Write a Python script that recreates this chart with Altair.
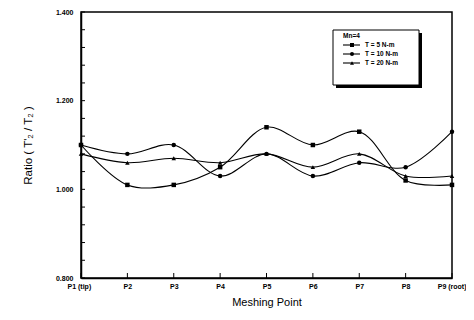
import altair as alt
import pandas as pd

# ---- data ----
points = ["P1 (tip)", "P2", "P3", "P4", "P5", "P6", "P7", "P8", "P9 (root)"]
t5 = [1.10, 1.01, 1.01, 1.05, 1.14, 1.10, 1.13, 1.02, 1.01]
t10 = [1.10, 1.08, 1.10, 1.03, 1.08, 1.03, 1.06, 1.05, 1.13]
t20 = [1.08, 1.06, 1.07, 1.06, 1.08, 1.05, 1.08, 1.03, 1.03]
series_names = ["T = 5 N-m", "T = 10 N-m", "T = 20 N-m"]
shapes = ["square", "circle", "triangle-up"]
y_label_values = [0.8, 1.0, 1.2, 1.4]
y_tick_values = [0.8, 0.84, 0.88, 0.92, 0.96, 1.0, 1.04, 1.08, 1.12, 1.16, 1.2,
                 1.24, 1.28, 1.32, 1.36, 1.4]
legend_title = "Mn=4"
x_title = "Meshing Point"
y_title = "Ratio  (  T'\u2082  /  T\u2082  )"

W, H = 371, 266
FONT = "Liberation Sans"

rows = []
for name, vals in zip(series_names, [t5, t10, t20]):
    for p, v in zip(points, vals):
        rows.append({"point": p, "ratio": v, "series": name})
df = pd.DataFrame(rows)

xaxis = alt.Axis(title=x_title, labelAngle=0, tickSize=0, labelPadding=4,
                 labelFontSize=7, labelFontWeight="bold", labelFont=FONT,
                 labelFlush=True, labelFlushOffset=14,
                 titleFont=FONT, titleFontSize=11, titleFontWeight="normal",
                 titlePadding=7, domainColor="black", domainWidth=1.5,
                 labelColor="black", titleColor="black", grid=False)
yaxis = alt.Axis(title=y_title, values=y_label_values, format=".3f",
                 tickSize=0, labelPadding=8, labelFontSize=7,
                 labelFontWeight="bold", labelFont=FONT, grid=False,
                 titleFont=FONT, titleFontSize=11.5, titleFontWeight="normal",
                 titlePadding=22, domainColor="black", domainWidth=1.5,
                 labelColor="black", titleColor="black")
xscale = alt.Scale(type="point", padding=0)
yscale = alt.Scale(domain=[0.8, 1.4], nice=False, zero=False)


def X():
    return alt.X("point:N", sort=points, scale=xscale, axis=xaxis)


def Y():
    return alt.Y("ratio:Q", scale=yscale, axis=yaxis)


shape_scale = alt.Scale(domain=series_names, range=shapes)

lines = alt.Chart(df).mark_line(interpolate="catmull-rom", color="black",
                                strokeWidth=1.1).encode(
    x=X(), y=Y(), detail="series:N")

marks = alt.Chart(df).mark_point(filled=True, color="black", size=20, opacity=1).encode(
    x=X(), y=Y(),
    shape=alt.Shape("series:N", scale=shape_scale, legend=None))

yt = pd.DataFrame({"ratio": y_tick_values})
yticks = alt.Chart(yt).mark_rule(color="black", strokeWidth=1).encode(
    y=Y(), x=alt.value(0), x2=alt.value(4))

xt = pd.DataFrame({"point": points})
xticks = alt.Chart(xt).mark_rule(color="black", strokeWidth=1).encode(
    x=X(), y=alt.value(H), y2=alt.value(H - 5))

one = alt.Data(values=[{"a": 1}])
# legend box with drop shadow
lx0, lx1, ly0, ly1 = 252, 338, 18, 73
shadow = alt.Chart(one).mark_rect(color="black").encode(
    x=alt.value(lx0 + 3), x2=alt.value(lx1 + 3), y=alt.value(ly0 + 3), y2=alt.value(ly1 + 3))
box = alt.Chart(one).mark_rect(fill="white", stroke="black", strokeWidth=1).encode(
    x=alt.value(lx0), x2=alt.value(lx1), y=alt.value(ly0), y2=alt.value(ly1))
ltitle = alt.Chart(one).mark_text(text=legend_title, align="left", baseline="middle",
                                  fontSize=6.5, fontWeight="bold", font=FONT,
                                  color="black").encode(
    x=alt.value(262), y=alt.value(24))

legend_layers = [shadow, box, ltitle]
for i, (name, shp) in enumerate(zip(series_names, shapes)):
    yy = 33 + 9 * i
    legend_layers.append(alt.Chart(one).mark_rule(color="black", strokeWidth=1.1).encode(
        x=alt.value(262), x2=alt.value(279), y=alt.value(yy)))
    legend_layers.append(alt.Chart(one).mark_point(filled=True, color="black", size=16,
                                                   shape=shp, opacity=1).encode(
        x=alt.value(271), y=alt.value(yy)))
    legend_layers.append(alt.Chart(one).mark_text(text=name, align="left", baseline="middle",
                                                  fontSize=6.5, fontWeight="bold", font=FONT,
                                                  color="black").encode(
        x=alt.value(284), y=alt.value(yy)))

chart = alt.layer(lines, marks, yticks, xticks, *legend_layers).properties(
    width=W, height=H,
    autosize=alt.AutoSizeParams(type="none"),
    padding={"left": 73, "top": 4, "right": 14, "bottom": 34},
    background="white",
).configure_view(stroke="black", strokeWidth=1.5)

chart.save("out.html", embed_options={"renderer": "svg", "actions": False})
